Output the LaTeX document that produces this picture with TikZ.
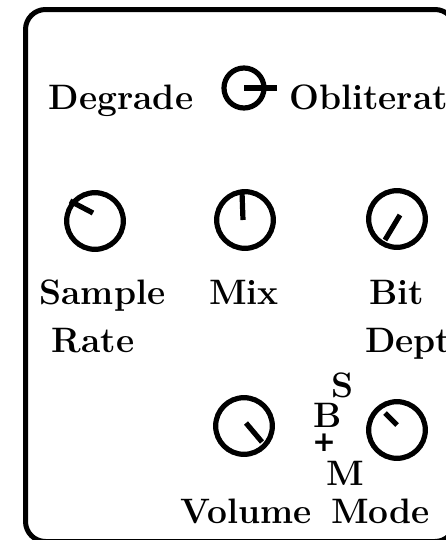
\documentclass[tikz,border=0pt]{standalone}
\usepackage{fontspec}
\newfontfamily\plusfont{DejaVu Sans}
\begin{document}
\begin{tikzpicture}[x=0.75pt,y=-0.75pt,
  lab/.style={font=\fontsize{26.5}{31}\selectfont\bfseries, inner sep=0pt},
  knob/.style={circle, draw, line width=3.9pt, minimum size=42.5pt, inner sep=0pt},
  toggle/.style={circle, draw, line width=3.9pt, minimum size=30pt, inner sep=0pt},
  pointer/.style={line width=3.9pt},
  panel/.style={line width=3.75pt, rounded corners=15pt}]
\useasboundingbox (0,0) rectangle (446,540);

% panel outline
\draw[panel] (25.5,9.5) rectangle (455,541.5);

% degrade / obliterate toggle
\node[lab, anchor=base] (deg) at (121,109) {Degrade};
\node[toggle] (sw) at (244,88) {};
\draw[pointer] (sw.center) -- ([shift={(33,0)}]sw.center);
\node[lab, anchor=base west] (obl) at (289,109) {Obliterate};

% upper row of knobs
\node[knob] (sr) at (95,221) {};
\draw[pointer] ([shift={(-2,-8)}]sr.center) -- ([shift={(-25,-20)}]sr.center);
\node[knob] (mix) at (245,220) {};
\draw[pointer] ([shift={(-2,0)}]mix.center) -- ([shift={(-3,-28)}]mix.center);
\node[knob] (bd) at (397,219) {};
\draw[pointer] ([shift={(3,-4)}]bd.center) -- ([shift={(-12,21)}]bd.center);

\node[lab, anchor=base] (lsample) at (102.5,304) {Sample};
\node[lab, anchor=base] (lrate) at (93,352) {Rate};
\node[lab, anchor=base] (lmix) at (244,304) {Mix};
\node[lab, anchor=base] (lbit) at (397,304) {Bit};
\node[lab, anchor=base west] (ldepth) at (365,352) {Depth};

% lower row of knobs
\node[knob] (vol) at (244,426) {};
\draw[pointer] ([shift={(2,-3)}]vol.center) -- ([shift={(18,16)}]vol.center);
\node[knob] (mode) at (397,430) {};
\draw[pointer] ([shift={(-12,-17)}]mode.center) -- ([shift={(0,-5)}]mode.center);

% mode positions
\node[lab, anchor=base west] (ms) at (331,397) {S};
\node[lab, anchor=base west] (mb) at (313,427) {B};
\node[inner sep=0pt, font=\plusfont\bfseries\fontsize{21}{24}\selectfont] (mp) at (324,443) {+};
\node[lab, anchor=base west] (mm) at (326,485) {M};

\node[lab, anchor=base] (lvol) at (246.5,523) {Volume};
\node[lab, anchor=base] (lmode) at (380.5,523) {Mode};
\end{tikzpicture}
\end{document}
